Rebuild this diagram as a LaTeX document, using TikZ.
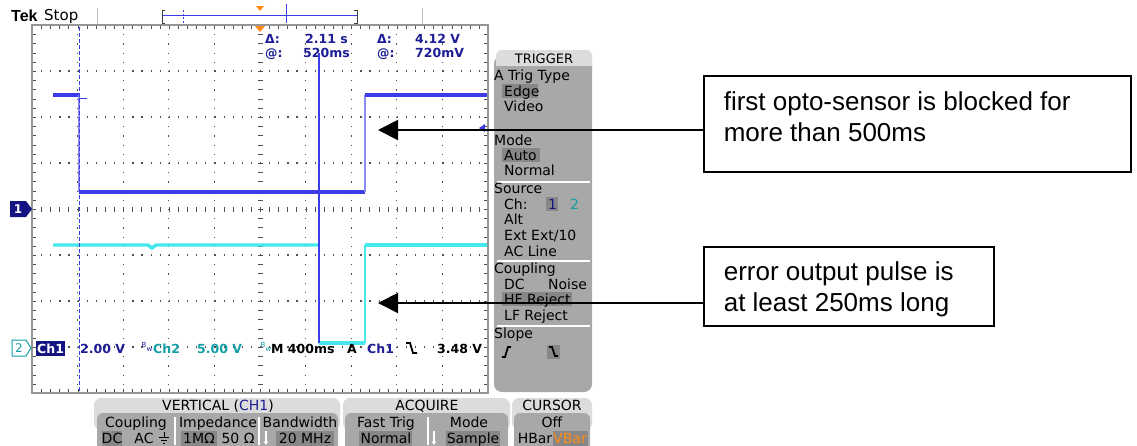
\documentclass[tikz,border=0pt]{standalone}
\usepackage{fontspec}
\setmainfont{DejaVu Sans}
\newfontfamily\arialf{Liberation Sans}
\usetikzlibrary{arrows.meta}
\definecolor{chone}{RGB}{60,60,230}
\definecolor{chonelt}{RGB}{140,140,240}
\definecolor{chtwo}{RGB}{70,232,240}
\definecolor{rdblue}{RGB}{30,30,150}
\definecolor{rdteal}{RGB}{20,160,165}
\definecolor{navy}{RGB}{20,20,130}
\definecolor{panelgray}{RGB}{168,168,168}
\definecolor{headgray}{RGB}{220,220,220}
\definecolor{hilite}{RGB}{135,135,135}
\definecolor{gridc}{RGB}{80,80,80}
\definecolor{framec}{RGB}{150,150,150}
\definecolor{trigor}{RGB}{255,140,20}
\begin{document}
\begin{tikzpicture}[x=1pt,y=-1pt,
  ro/.style={font=\fontsize{12.5}{14}\selectfont\bfseries, inner sep=0pt, text height=9pt, text depth=0pt, anchor=west},
  mt/.style={font=\fontsize{14}{16}\selectfont, inner sep=0pt, text height=10pt, text depth=0pt, anchor=west},
  mc/.style={mt, anchor=center},
  hl/.style={fill=hilite},
  sep/.style={white, line width=1.5pt},
  trace/.style={line width=3.4pt},
  edgeline/.style={line width=1.4pt},
  callout/.style={draw=black, line width=1.6pt, font=\arialf\fontsize{26}{31}\selectfont, inner xsep=20pt, inner ysep=0pt, anchor=north west},
  arr/.style={line width=2pt, -{Triangle[length=20pt,width=20pt]}},
]
\useasboundingbox (0,0) rectangle (1137,445);
\clip (0,0) rectangle (1137,445);
\fill[white] (0,0) rectangle (1137,445);

% ---------- top bar ----------
\node[font=\arialf\fontsize{16}{16}\selectfont\bfseries, anchor=west, inner sep=0pt] (tek) at (11,16) {Tek};
\node[font=\fontsize{15}{15}\selectfont, anchor=west, inner sep=0pt] (stop) at (44,16) {Stop};
\draw[black!25, line width=1pt] (97,8)--(97,25);
\draw[black!25, line width=1pt] (422,8)--(422,25);
\draw[chone, line width=1pt] (162,15)--(357,15);
\draw[black!75, line width=1pt] (165,10)--(162,10)--(162,23)--(165,23);
\draw[black!75, line width=1pt] (354,10)--(357,10)--(357,23)--(354,23);
\draw[chone, line width=1pt, dash pattern=on 2pt off 1.5pt] (183,10)--(183,23);
\draw[chone, line width=1pt] (286,4)--(286,23);
\fill[trigor] (256,6)--(264,6)--(260,11)--cycle;

% ---------- graticule ----------
\foreach \k in {1,2,3,4,6,7,8,9}
  \draw[gridc, line width=1.2pt, dash pattern=on 1.2pt off 8pt] ({32+45.6*\k},25) -- ({32+45.6*\k},393);
\foreach \k in {1,2,3,5,6,7}
  \draw[gridc, line width=1.2pt, dash pattern=on 1.2pt off 7.92pt] (32,{25+46*\k}) -- (488,{25+46*\k});
\draw[gridc, line width=5pt, dash pattern=on 1pt off 8.2pt] (260,25)--(260,393);
\draw[gridc, line width=5pt, dash pattern=on 1pt off 8.12pt] (32,209)--(488,209);
\draw[gridc, line width=4pt, dash pattern=on 1pt off 8.2pt] (34,25)--(34,393);
\draw[gridc, line width=4pt, dash pattern=on 1pt off 8.2pt] (486,25)--(486,393);
\draw[gridc, line width=4pt, dash pattern=on 1pt off 8.12pt] (32,27)--(488,27);
\draw[gridc, line width=4pt, dash pattern=on 1pt off 8.12pt] (32,391)--(488,391);
\draw[framec, line width=2pt] (32,25) rectangle (488,393);
\fill[trigor] (255,26)--(265,26)--(260,32)--cycle;

% ---------- readouts ----------
\node[ro, text=rdblue] (r1) at (265,39) {Δ:};
\node[ro, text=rdblue] (r2) at (305,39) {2.11 s};
\node[ro, text=rdblue] (r3) at (377,39) {Δ:};
\node[ro, text=rdblue] (r4) at (415,39) {4.12 V};
\node[ro, text=rdblue] (r5) at (265,53) {@:};
\node[ro, text=rdblue] (r6) at (303,53) {520ms};
\node[ro, text=rdblue] (r7) at (377,53) {@:};
\node[ro, text=rdblue] (r8) at (415,53) {720mV};

% ---------- traces ----------
\draw[chtwo, trace] (53,245)--(148,245)--(152,248)--(156,245)--(319,245);
\draw[chtwo, edgeline] (319,245)--(319,343);
\draw[chtwo, trace] (319,343)--(365,343);
\draw[chtwo, edgeline] (365,343)--(365,245);
\draw[chtwo, trace] (365,245)--(487,245);

\draw[chone, trace] (53,95)--(79,95);
\draw[chonelt, edgeline] (79,95)--(79,192);
\draw[chone, trace] (79,192)--(365,192);
\draw[chonelt, edgeline] (365,192)--(365,95);
\draw[chone, trace] (365,95)--(487,95);
\draw[chone, line width=1pt] (79,98)--(87,98);

\draw[chone, line width=1pt, dash pattern=on 4pt off 2pt] (79,27)--(79,391);
\draw[chone, line width=1.2pt] (319,53)--(319,343);
\fill[chone] (479,128)--(485,124)--(485,132)--cycle;

% channel markers
\fill[navy] (10,201)--(26,201)--(32,209)--(26,217)--(10,217)--cycle;
\node[font=\fontsize{12}{12}\selectfont\bfseries, text=white, inner sep=0pt] (mk1) at (18,209) {1};
\draw[rdteal, line width=1pt] (12,340)--(26,340)--(31,348)--(26,356)--(12,356)--cycle;
\node[font=\fontsize{12}{12}\selectfont, text=rdteal, inner sep=0pt] (mk2) at (19,348) {2};

% bottom readout row
\fill[navy] (36,341) rectangle (65,356);
\node[ro, text=white] (b1) at (37,348.5) {Ch1};
\node[ro, text=rdblue] (b2) at (80,348.5) {2.00 V};
\node[font=\fontsize{7}{7}\selectfont, text=rdblue, inner sep=0pt] (b3) at (147,347) {\raisebox{2pt}{B}\raisebox{-2pt}{w}};
\node[ro, text=rdteal] (b4) at (153,348.5) {Ch2};
\node[ro, text=rdteal] (b5) at (197,348.5) {5.00 V};
\node[font=\fontsize{7}{7}\selectfont, text=rdteal, inner sep=0pt] (b6) at (266,347) {\raisebox{2pt}{B}\raisebox{-2pt}{w}};
\node[ro] (b7) at (271,348.5) {M 400ms};
\node[ro] (b8) at (347,348.5) {A};
\node[ro, text=rdblue] (b9) at (367,348.5) {Ch1};
\draw[black, line width=1.8pt] (406,343)--(410,343)--(413,353)--(417,353);
\node[ro] (b10) at (437,348.5) {3.48 V};

% ---------- trigger menu ----------
\fill[panelgray, rounded corners=8pt] (494,56) rectangle (592,392);
\fill[headgray, rounded corners=6pt] (496,50) rectangle (592,72);
\fill[panelgray] (494,66) rectangle (592,78);
\draw[sep] (497,182)--(590,182);
\draw[sep] (497,261)--(590,261);
\draw[sep] (497,326)--(590,326);
\fill[hl] (502,84) rectangle (538,98);
\fill[hl] (502,148) rectangle (540,162);
\fill[hl] (546,197) rectangle (558,211);
\fill[hl] (502,292) rectangle (572,306);
\fill[hl] (547,345) rectangle (560,359);
\node[mc, font=\fontsize{13}{15}\selectfont] (tg) at (544,58) {TRIGGER};
\node[mt] (m1) at (494,75) {A Trig Type};
\node[mt] (m2) at (504,91) {Edge};
\node[mt] (m3) at (504,106) {Video};
\node[mt] (m4) at (494,140) {Mode};
\node[mt] (m5) at (504,155) {Auto};
\node[mt] (m6) at (504,170) {Normal};
\node[mt] (m7) at (494,188) {Source};
\node[mt] (m8) at (504,204) {Ch:};
\node[mt, text=navy] (m9) at (548,204) {1};
\node[mt, text=rdteal] (m10) at (570,204) {2};
\node[mt] (m11) at (504,219) {Alt};
\node[mt] (m12) at (504,235) {Ext};
\node[mt] (m13) at (531,235) {Ext/10};
\node[mt] (m14) at (504,251) {AC Line};
\node[mt] (m15) at (494,268) {Coupling};
\node[mt] (m16) at (504,284) {DC};
\node[mt] (m17) at (548,284) {Noise};
\node[mt] (m18) at (504,299) {HF Reject};
\node[mt] (m19) at (504,315) {LF Reject};
\node[mt] (m20) at (494,333) {Slope};
\draw[black, line width=1.8pt] (502,357)--(505,357)--(508,347)--(511,347);
\draw[black, line width=1.8pt] (549,347)--(552,347)--(555,356)--(558,356);

% ---------- bottom menus ----------
\fill[headgray, rounded corners=7pt] (94,398) rectangle (340,430);
\fill[panelgray, rounded corners=6pt] (97,413) rectangle (338,460);
\fill[headgray, rounded corners=7pt] (343,398) rectangle (510,430);
\fill[panelgray, rounded corners=6pt] (345,413) rectangle (508,460);
\fill[headgray, rounded corners=7pt] (512,398) rectangle (592,430);
\fill[panelgray, rounded corners=6pt] (514,413) rectangle (590,460);
\draw[sep] (175,417)--(175,445);
\draw[sep] (259,417)--(259,445);
\draw[sep] (428,417)--(428,445);
\fill[hl] (102,431) rectangle (122,446);
\fill[hl] (181,431) rectangle (217,446);
\fill[hl] (276,431) rectangle (334,446);
\fill[hl] (359,431) rectangle (412,446);
\fill[hl] (446,431) rectangle (500,446);
\fill[hl] (553,431) rectangle (588,446);

\node[mc] (vh) at (218,405) {VERTICAL (\textcolor{rdblue}{CH1})};
\node[mc] (v1) at (136,422) {Coupling};
\node[mc] (v2) at (112,438) {DC};
\node[mc] (v3) at (144,438) {AC};
\draw[black, line width=1pt] (164,432)--(164,437) (159,437)--(169,437) (161,440)--(167,440) (163,443)--(165,443);
\node[mc] (v4) at (218,422) {Impedance};
\node[mc] (v5) at (199,438) {1MΩ};
\node[mc] (v6) at (238,438) {50 Ω};
\node[mc] (v7) at (300,422) {Bandwidth};
\draw[white, line width=1.6pt, -{Stealth[length=4pt,width=5pt]}] (266,431)--(266,445);
\node[mc] (v8) at (305,438) {20 MHz};

\node[mc] (ah) at (427,405) {ACQUIRE};
\node[mc] (a1t) at (386,422) {Fast Trig};
\node[mc] (a2t) at (386,438) {Normal};
\node[mc] (a3t) at (469,422) {Mode};
\draw[white, line width=1.6pt, -{Stealth[length=4pt,width=5pt]}] (434,431)--(434,445);
\node[mc] (a4t) at (473,438) {Sample};

\node[mc] (cuh) at (552,405) {CURSOR};
\node[mc] (cu1) at (552,422) {Off};
\node[mc] (cu2) at (535,438) {HBar};
\node[mc, text=trigor] (cu3) at (570,438) {VBar};

% ---------- callouts ----------
\node[callout] (c1) at (703,75) {\begin{minipage}[c][96pt][t]{387pt}\rule{0pt}{35pt}first opto-sensor is blocked for\\more than 500ms\end{minipage}};
\node[callout] (c2) at (703,246) {\begin{minipage}[c][79pt][t]{250pt}\rule{0pt}{34pt}error output pulse is\\at least 250ms long\end{minipage}};
\coordinate (tip1) at (378,130);
\coordinate (tip2) at (378,303);
\draw[arr] (c1.west |- tip1) -- (tip1);
\draw[arr] (c2.west |- tip2) -- (tip2);
\end{tikzpicture}
\end{document}
